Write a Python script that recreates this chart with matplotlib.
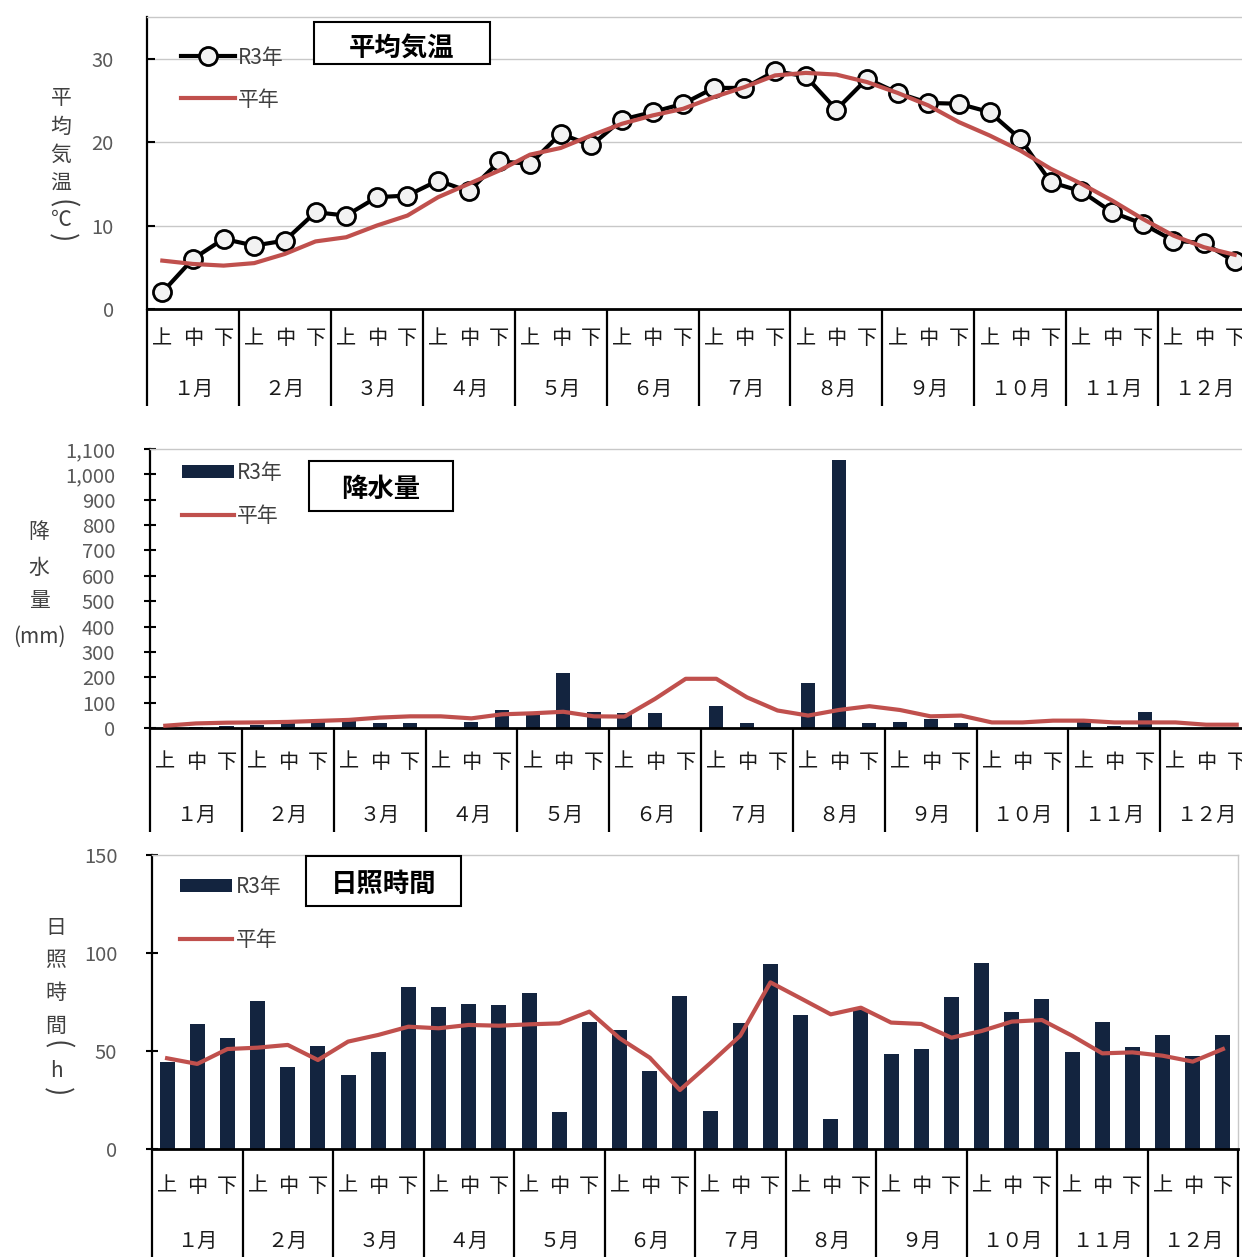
import matplotlib
matplotlib.use("Agg")
import matplotlib.pyplot as plt
from matplotlib.patches import Rectangle
from matplotlib.ticker import FuncFormatter
import numpy as np

plt.rcParams['font.family'] = ['Noto Sans CJK JP', 'DejaVu Sans']

# 旬 labels and months
dekads = ['上', '中', '下']
months = ['１月', '２月', '３月', '４月', '５月', '６月',
          '７月', '８月', '９月', '１０月', '１１月', '１２月']

# mean temperature (C)
temp_r3 = [2.0, 6.0, 8.4, 7.6, 8.2, 11.6, 11.2, 13.4, 13.6, 15.4, 14.1, 17.7,
           17.4, 21.0, 19.6, 22.7, 23.6, 24.6, 26.5, 26.5, 28.5, 27.9, 23.9, 27.6,
           25.9, 24.7, 24.6, 23.6, 20.4, 15.2, 14.1, 11.6, 10.2, 8.2, 7.9, 5.7]
temp_norm = [5.8, 5.4, 5.2, 5.5, 6.6, 8.1, 8.6, 10.0, 11.2, 13.4, 15.0, 16.6,
             18.5, 19.3, 20.8, 22.2, 23.2, 24.0, 25.4, 26.6, 28.0, 28.3, 28.1, 27.2,
             25.9, 24.4, 22.4, 20.8, 19.0, 16.8, 15.0, 13.0, 10.8, 8.8, 7.4, 6.5]

# precipitation (mm)
prec_r3 = [0, 2, 8, 12, 22, 26, 35, 19, 19, 0, 24, 69,
           63, 215, 64, 59, 58, 0, 88, 18, 0, 177, 1055, 18,
           22, 36, 18, 0, 0, 0, 22, 9, 62, 0, 0, 0]
prec_norm = [9, 18, 21, 22, 24, 28, 32, 41, 46, 46, 38, 54,
             58, 64, 46, 45, 115, 194, 194, 121, 69, 49, 71, 86,
             71, 46, 49, 22, 22, 29, 29, 22, 22, 22, 13, 13]

# sunshine duration (h)
sun_r3 = [44.2, 63.6, 56.5, 75.5, 42.0, 52.4, 37.8, 49.7, 82.5, 72.6, 74.1, 73.3,
          79.8, 18.7, 65.0, 60.7, 39.8, 78.2, 19.6, 64.1, 94.4, 68.4, 15.1, 70.9,
          48.3, 51.0, 77.7, 95.1, 70.1, 76.4, 49.7, 65.0, 51.9, 58.2, 47.4, 58.2]
sun_norm = [46.3, 43.4, 51.0, 51.7, 53.1, 45.4, 54.8, 58.2, 62.4, 61.6, 63.3, 62.9,
            63.6, 64.1, 70.1, 56.5, 46.6, 30.1, 43.7, 57.8, 85.0, 76.9, 68.7, 72.1,
            64.5, 63.8, 56.8, 60.2, 65.0, 65.8, 57.8, 48.8, 49.3, 47.6, 44.6, 51.0]

W, H = 1242, 1257
NAVY = '#13243f'
RED = '#c0504d'
GRAY_TXT = '#404040'
x = np.arange(36)

fig = plt.figure(figsize=(W / 100, H / 100), dpi=100)


def box(l, t, r, b):
    return [l / W, 1 - b / H, (r - l) / W, (b - t) / H]


def make_panel(l, t, r, b, lab_bottom, dek_off, mon_off):
    ax = fig.add_axes(box(l, t, r, b))
    lab = fig.add_axes(box(l, b, r, lab_bottom), sharex=ax)
    ax.set_xlim(-0.5, 35.5)
    ax.set_xticks([])
    for s in ('top', 'right'):
        ax.spines[s].set_color('#c8c8c8')
        ax.spines[s].set_linewidth(1)
    ax.spines['left'].set_linewidth(1.6)
    ax.spines['bottom'].set_linewidth(2)
    ax.tick_params(axis='y', labelsize=14.5, labelcolor='#595959', width=1.5)

    # two-level category axis under the plot
    lab.axis('off')
    lab.set_ylim(0, 1)
    h = lab_bottom - b
    lab.vlines(np.arange(-0.5, 36, 3), 0, 1, color='black', lw=1.6, clip_on=False)
    for i in range(36):
        lab.text(i, 1 - dek_off / h, dekads[i % 3], ha='center', va='center',
                 fontsize=14.5, color='#1a1a1a')
    for m in range(12):
        lab.text(3 * m + 1, 1 - mon_off / h, months[m], ha='center', va='center',
                 fontsize=14.5, color='#1a1a1a')
    return ax


def title_box(l, t, r, b, text, dy=0):
    fig.add_artist(Rectangle((l / W, 1 - b / H), (r - l) / W, (b - t) / H,
                             transform=fig.transFigure, fill=True, fc='white',
                             ec='black', lw=1.5, zorder=5))
    fig.text((l + r) / 2 / W, 1 - ((t + b) / 2 + dy) / H, text, ha='center',
             va='center', fontsize=19, fontweight='bold', zorder=6)


def stacked_label(xp, items):
    # vertical axis title, one glyph per row; brackets are turned sideways
    for s, yp in items:
        if s in '()':
            fig.text(xp / W, 1 - yp / H, s, ha='center', va='center', rotation=270,
                     rotation_mode='anchor', fontsize=20, color=GRAY_TXT)
        else:
            fig.text(xp / W, 1 - yp / H, s, ha='center', va='center',
                     fontsize=15, color=GRAY_TXT)


# --- mean temperature ---
ax1 = make_panel(147, 17, 1250, 309, 406, 30, 80)
ax1.set_ylim(0, 35)
ax1.set_yticks([0, 10, 20, 30])
ax1.grid(axis='y', color='#c8c8c8', lw=1)
ax1.set_axisbelow(True)
ax1.tick_params(axis='y', direction='in', length=6, pad=24)
l_r3, = ax1.plot(x, temp_r3, color='black', lw=3, marker='o', ms=13,
                 mfc='#f2f2f2', mec='black', mew=2, zorder=3, label='R3年')
l_nm, = ax1.plot(x, temp_norm, color=RED, lw=3, zorder=4, label='平年')
ax1.legend(handles=[l_r3, l_nm], loc='upper left', bbox_to_anchor=(0.031, 0.898),
           frameon=False, fontsize=15, handlelength=2.6, handletextpad=0.1,
           labelspacing=0.95, borderpad=0, borderaxespad=0, labelcolor=GRAY_TXT)
title_box(314, 22, 490, 64, '平均気温', dy=6)
stacked_label(61, [('平', 98), ('均', 127), ('気', 155), ('温', 184),
                   ('(', 204), ('℃', 220), (')', 238)])

# --- precipitation ---
ax2 = make_panel(150, 449, 1252, 728, 832, 34, 87)
ax2.set_ylim(0, 1100)
ax2.set_yticks(np.arange(0, 1101, 100))
ax2.yaxis.set_major_formatter(FuncFormatter(lambda v, p: f'{int(v):,}'))
ax2.tick_params(axis='y', direction='inout', length=8, pad=21)
b2 = ax2.bar(x, prec_r3, width=0.46, color=NAVY, zorder=2, label='R3年')
p2, = ax2.plot(x, prec_norm, color=RED, lw=3, zorder=3, label='平年')
ax2.legend(handles=[b2, p2], loc='upper left', bbox_to_anchor=(0.029, 0.955),
           frameon=False, fontsize=15, handlelength=2.5, handleheight=0.6,
           handletextpad=0.15, labelspacing=1.05, borderpad=0, borderaxespad=0,
           labelcolor=GRAY_TXT)
title_box(309, 461, 453, 511, '降水量', dy=3)
stacked_label(39, [('降', 532), ('水', 568), ('量', 601), ('(mm)', 637)])

# --- sunshine duration ---
ax3 = make_panel(152, 855, 1238, 1149, 1268, 37, 92)
ax3.set_ylim(0, 150)
ax3.set_yticks([0, 50, 100, 150])
ax3.tick_params(axis='y', direction='inout', length=8, pad=21)
b3 = ax3.bar(x, sun_r3, width=0.5, color=NAVY, zorder=2, label='R3年')
p3, = ax3.plot(x, sun_norm, color=RED, lw=3, zorder=3, label='平年')
ax3.legend(handles=[b3, p3], loc='upper left', bbox_to_anchor=(0.026, 0.93),
           frameon=False, fontsize=15, handlelength=2.5, handleheight=0.6,
           handletextpad=0.15, labelspacing=1.5, borderpad=0, borderaxespad=0,
           labelcolor=GRAY_TXT)
title_box(306, 856, 461, 906, '日照時間', dy=3)
stacked_label(56, [('日', 928), ('照', 960), ('時', 993), ('間', 1026),
                   ('(', 1045), ('h', 1071), (')', 1092)])

fig.savefig('out.png', dpi=100)
